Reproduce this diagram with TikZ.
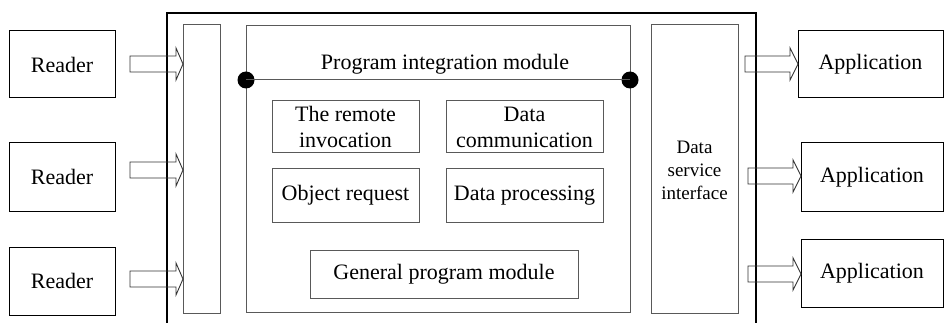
\documentclass[tikz,border=0pt]{standalone}
\usepackage{fontspec}
\setmainfont{Liberation Serif}
\begin{document}
\begin{tikzpicture}[x=1pt,y=-1pt,
  thinbox/.style={draw=black,line width=1pt,fill=none},
  greybox/.style={draw=black!65,line width=1pt,fill=none},
  frameline/.style={draw=black,line width=2pt},
  arrowline/.style={draw=black!80,line width=0.9pt},
  lbl/.style={font=\fontsize{22}{26}\selectfont,align=center,inner sep=0pt},
  smalllbl/.style={font=\fontsize{19}{23}\selectfont,align=center,inner sep=0pt},
  dot/.style={circle,fill=black,inner sep=0pt,minimum size=17pt}]
\useasboundingbox (0,0) rectangle (944,323);

% outer frame, open at the bottom
\draw[frameline] (167,323) -- (167,13) -- (756,13) -- (756,323);

% readers
\draw[thinbox] (9,31) rectangle (115,98);
\node[lbl] (r1) at (62,64.5) {Reader};
\draw[thinbox] (9,143) rectangle (115,211);
\node[lbl] (r2) at (62,177) {Reader};
\draw[thinbox] (9,247) rectangle (115,315);
\node[lbl] (r3) at (62,281) {Reader};

% applications
\draw[thinbox] (798,31) rectangle (943,98);
\node[lbl] (a1) at (870.5,64.5) {Application};
\draw[thinbox] (801,143) rectangle (943,211);
\node[lbl] (a2) at (872,177) {Application};
\draw[thinbox] (801,239) rectangle (943,307);
\node[lbl] (a3) at (872,273) {Application};

% input bar
\draw[greybox] (183,25) rectangle (220,313);

% program integration module
\draw[greybox] (246,26) rectangle (630,312);
\node[lbl] (pim) at (445,64) {Program integration module};
\node[dot] (dl) at (246,80) {};
\node[dot] (dr) at (630,80) {};
\draw[greybox] (dl.center) -- (dr.center);

\draw[greybox] (272,101) rectangle (419,153);
\node[lbl] (ri) at (345.5,127) {The remote\\invocation};
\draw[greybox] (446,101) rectangle (603,153);
\node[lbl] (dc) at (524.5,127) {Data\\communication};
\draw[greybox] (272,169) rectangle (419,222);
\node[lbl] (orq) at (345.5,195.5) {Object request};
\draw[greybox] (446,169) rectangle (603,222);
\node[lbl] (dp) at (524.5,195.5) {Data processing};
\draw[greybox] (310,250) rectangle (578,298);
\node[lbl] (gpm) at (444,274) {General program module};

% data service interface
\draw[greybox] (651,25) rectangle (738,313);
\node[smalllbl] (dsi) at (694.5,170) {Data\\service\\interface};

% block arrows: start x, tip x, centre y, head length
\newcommand\blockarr[4]{%
  \draw[arrowline] (#1,#3-8) -- (#2-#4,#3-8) -- (#2-#4,#3-16) -- (#2,#3)
    -- (#2-#4,#3+16) -- (#2-#4,#3+8) -- (#1,#3+8) -- cycle;}
\blockarr{130}{183}{64}{7}
\blockarr{130}{183}{170}{7}
\blockarr{130}{183}{279}{7}
\blockarr{745}{798}{64}{8}
\blockarr{748}{801}{176}{8}
\blockarr{748}{801}{274}{8}
\end{tikzpicture}
\end{document}
